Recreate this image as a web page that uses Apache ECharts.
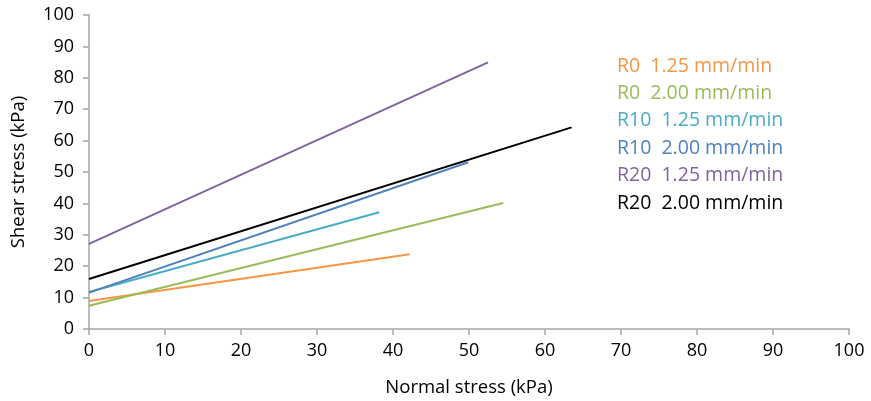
<!DOCTYPE html>
<html>
<head>
<meta charset="utf-8">
<script src="https://cdn.jsdelivr.net/npm/echarts@6/dist/echarts.min.js"></script>
<style>
  html, body { margin: 0; padding: 0; background: #fff; }
  #chart { width: 871px; height: 401px; }
</style>
</head>
<body>
<div id="chart"></div>
<script>
  // series names and colours
  var names = ['R0  1.25 mm/min', 'R0  2.00 mm/min', 'R10  1.25 mm/min', 'R10  2.00 mm/min', 'R20  1.25 mm/min', 'R20  2.00 mm/min'];
  var colors = ['#f79646', '#9bbb59', '#4bacc6', '#4f81bd', '#8064a2', '#000000'];

  // line end points: [normal stress, shear stress]
  var r0_125 = [[0, 8.9], [42.2, 23.8]];
  var r0_200 = [[0, 7.4], [54.5, 40.1]];
  var r10_125 = [[0, 11.8], [38.2, 37.2]];
  var r10_200 = [[0, 11.6], [49.9, 53.1]];
  var r20_125 = [[0, 27.1], [52.5, 84.9]];
  var r20_200 = [[0, 15.9], [63.5, 64.2]];
  var lines = [r0_125, r0_200, r10_125, r10_200, r20_125, r20_200];

  var font = 'Open Sans, Liberation Sans, sans-serif';
  var axisGray = '#a6a6a6';

  var series = [];
  lines.forEach(function (pts, i) {
    series.push({
      name: names[i],
      type: 'line',
      data: pts,
      symbol: 'none',
      lineStyle: { color: colors[i], width: 2 },
      itemStyle: { color: colors[i] }
    });
  });

  var chart = echarts.init(document.getElementById('chart'));
  chart.setOption({
    animation: false,
    grid: { left: 89, right: 22, top: 15, bottom: 72, outerBoundsMode: 'none', containLabel: false },
    legend: {
      orient: 'vertical',
      left: 607,
      top: 51,
      icon: 'none',
      itemWidth: 0,
      itemHeight: 20,
      itemGap: 7.4,
      data: names.map(function (n, i) {
        return { name: n, textStyle: { color: colors[i] } };
      }),
      textStyle: { fontFamily: font, fontSize: 19.5 }
    },
    xAxis: {
      type: 'value',
      min: 0, max: 100, interval: 10,
      name: 'Normal stress (kPa)',
      nameLocation: 'middle',
      nameGap: 49,
      nameTextStyle: { fontFamily: font, fontSize: 18.5, color: '#000' },
      axisLine: { lineStyle: { color: axisGray, width: 1.5 } },
      axisTick: { show: true, length: 6, lineStyle: { color: axisGray, width: 1.5 } },
      axisLabel: { fontFamily: font, fontSize: 18, color: '#000', margin: 13 },
      splitLine: { show: false }
    },
    yAxis: {
      type: 'value',
      min: 0, max: 100, interval: 10,
      name: 'Shear stress (kPa)',
      nameLocation: 'middle',
      nameGap: 61,
      nameTextStyle: { fontFamily: font, fontSize: 18.5, color: '#000' },
      axisLine: { show: true, lineStyle: { color: axisGray, width: 1.5 } },
      axisTick: { show: true, length: 6, lineStyle: { color: axisGray, width: 1.5 } },
      axisLabel: { fontFamily: font, fontSize: 18, color: '#000', margin: 15 },
      splitLine: { show: false }
    },
    series: series
  });
</script>
</body>
</html>
